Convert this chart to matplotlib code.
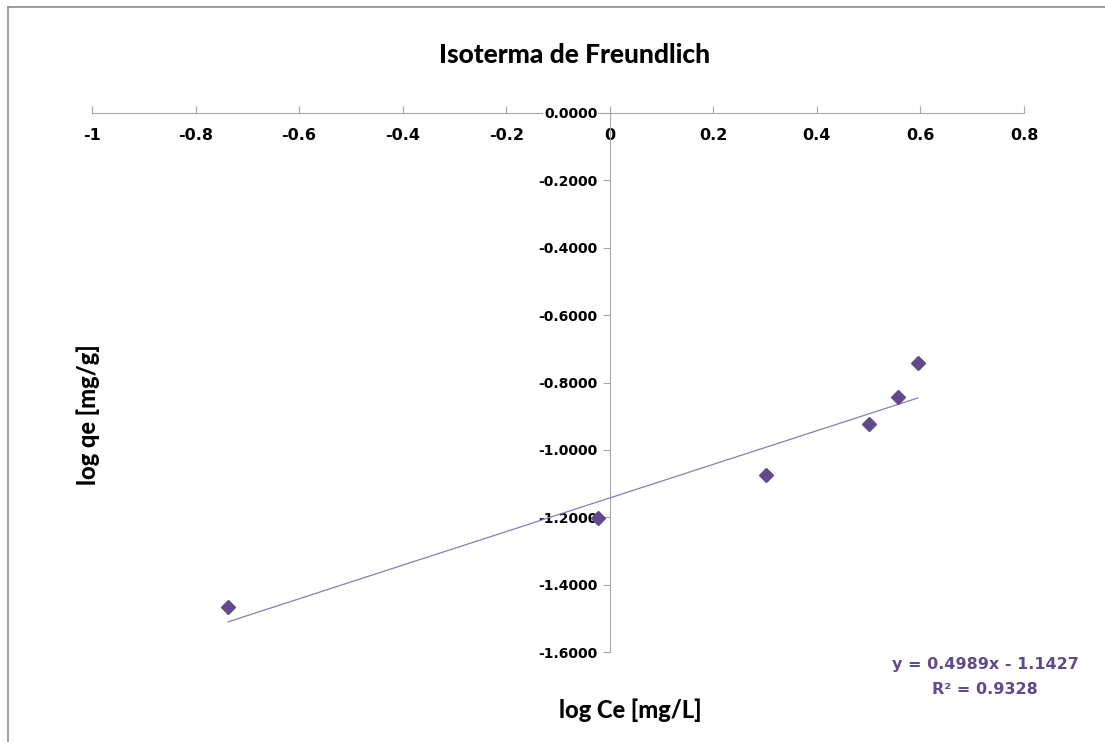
import numpy as np
import matplotlib.pyplot as plt
from matplotlib.lines import Line2D

# datos
log_ce = [-0.737, -0.023, 0.302, 0.500, 0.556, 0.595]
log_qe = [-1.466, -1.202, -1.075, -0.923, -0.843, -0.742]
pendiente = 0.4989
intercepto = -1.1427
r2 = 0.9328

x_ticks = [-1, -0.8, -0.6, -0.4, -0.2, 0, 0.2, 0.4, 0.6, 0.8]
y_ticks = [0, -0.2, -0.4, -0.6, -0.8, -1.0, -1.2, -1.4, -1.6]

morado = '#5F4B8B'
gris = '#A6A6A6'

fig = plt.figure(figsize=(11.05, 7.42), dpi=100)
ax = fig.add_axes([92/1105, 90/742, 932/1105, 539/742])

ax.set_xlim(-1, 0.8)
ax.set_ylim(-1.6, 0)

# ejes cruzando en el origen, como en Excel
for s in ['top', 'right']:
    ax.spines[s].set_visible(False)
ax.spines['left'].set_position(('data', 0))
ax.spines['bottom'].set_position(('data', 0))
ax.spines['left'].set_color(gris)
ax.spines['bottom'].set_color(gris)
ax.spines['bottom'].set_zorder(1)
ax.yaxis.set_zorder(3)

ax.set_xticks(x_ticks)
ax.set_xticklabels(['%g' % v for v in x_ticks])
ax.set_yticks(y_ticks)
ax.set_yticklabels(['%.4f' % v for v in y_ticks])
ax.tick_params(axis='x', direction='in', length=5, color=gris, pad=11)
ax.tick_params(axis='y', direction='out', length=5, color=gris, pad=4)
for lab in ax.get_xticklabels():
    lab.set_fontfamily('DejaVu Sans')
    lab.set_fontweight('bold')
    lab.set_fontsize(11.5)
for lab in ax.get_yticklabels():
    lab.set_fontfamily('DejaVu Sans')
    lab.set_fontweight('bold')
    lab.set_fontsize(10)
    lab.set_bbox(dict(facecolor='white', edgecolor='none', pad=0.5))

# tendencia lineal
xt = np.array([min(log_ce), max(log_ce)])
ax.plot(xt, pendiente * xt + intercepto, color='#8A7DAF', lw=0.9, zorder=4)
ax.plot(log_ce, log_qe, linestyle='none', marker='D', markersize=7.5,
        color=morado, clip_on=False, zorder=5)

fig.text(575/1105, 1 - 55/742, 'Isoterma de Freundlich', ha='center', va='center',
         fontfamily='Lato', fontweight='black', fontsize=19)
fig.text(630/1105, 1 - 710/742, 'log Ce [mg/L]', ha='center', va='center',
         fontfamily='Lato', fontweight='black', fontsize=17)
fig.text(88/1105, 1 - 415/742, 'log qe [mg/g]', ha='center', va='center',
         rotation=90, fontfamily='Lato', fontweight='black', fontsize=17)

fig.text(985/1105, 1 - 664/742, 'y = %.4fx - %.4f' % (pendiente, -intercepto),
         ha='center', va='center', color=morado, fontfamily='DejaVu Sans',
         fontweight='bold', fontsize=11.5)
fig.text(985/1105, 1 - 689/742, 'R² = %.4f' % r2,
         ha='center', va='center', color=morado, fontfamily='DejaVu Sans',
         fontweight='bold', fontsize=11.5)

# marco del area del grafico
fig.add_artist(Line2D([8/1105, 8/1105], [0, 1 - 7/742], transform=fig.transFigure,
                      color='#8C8C8C', lw=1.2))
fig.add_artist(Line2D([8/1105, 1], [1 - 7/742, 1 - 7/742], transform=fig.transFigure,
                      color='#8C8C8C', lw=1.2))

fig.savefig('out.png', dpi=100)
